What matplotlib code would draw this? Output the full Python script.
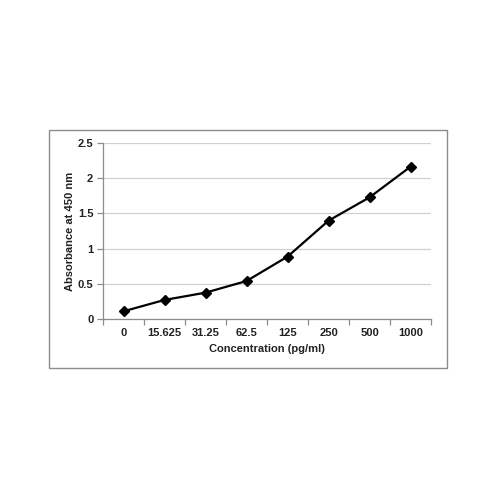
import matplotlib
matplotlib.use("Agg")
import matplotlib.pyplot as plt
from matplotlib.patches import Rectangle

categories = ["0", "15.625", "31.25", "62.5", "125", "250", "500", "1000"]
absorbance = [0.113, 0.274, 0.377, 0.542, 0.887, 1.396, 1.726, 2.160]
yticks = [0, 0.5, 1, 1.5, 2, 2.5]
ytick_labels = ["0", "0.5", "1", "1.5", "2", "2.5"]

plt.rcParams['font.family'] = ['Liberation Sans', 'DejaVu Sans']

W, H = 500, 500
fig = plt.figure(figsize=(5, 5), dpi=100)

# outer chart border
fig.patches.append(Rectangle((49 / W, 1 - 368 / H), (447 - 49) / W, (368 - 130) / H,
                             transform=fig.transFigure, fill=False,
                             edgecolor="#8c8c8c", linewidth=1.0))

left, right, top, bottom = 103, 431, 142.7, 319.3
ax = fig.add_axes([left / W, 1 - bottom / H, (right - left) / W, (bottom - top) / H])

x = list(range(len(categories)))
ax.plot(x, absorbance, color="black", linewidth=1.6, marker="D", markersize=5.5,
        markerfacecolor="black", markeredgecolor="black", zorder=3)

ax.set_xlim(-0.5, len(categories) - 0.5)
ax.set_ylim(0, 2.5)
ax.set_yticks(yticks)
ax.set_yticklabels(ytick_labels)
ax.set_xticks(x)
ax.set_xticklabels(categories)
ax.set_xticks([i - 0.5 for i in range(len(categories) + 1)], minor=True)

ax.yaxis.grid(True, color="#d0d0d0", linewidth=0.9)
ax.set_axisbelow(True)
for s in ["top", "right"]:
    ax.spines[s].set_visible(False)
for s in ["left", "bottom"]:
    ax.spines[s].set_color("#8c8c8c")
    ax.spines[s].set_linewidth(0.9)

fs = 8
ax.tick_params(axis="x", which="major", length=0, pad=6)
ax.tick_params(axis="x", which="minor", length=4, color="#8c8c8c", width=0.9)
ax.tick_params(axis="y", which="major", length=4, color="#8c8c8c", width=0.9, pad=3)
for lab in ax.get_xticklabels() + ax.get_yticklabels():
    lab.set_fontsize(fs)
    lab.set_fontweight("bold")
    lab.set_color("#222222")

ax.set_xlabel("Concentration (pg/ml)", fontsize=fs, fontweight="bold", color="#222222", labelpad=4.5)
ax.set_ylabel("Absorbance at 450 nm", fontsize=fs, fontweight="bold", color="#222222", labelpad=2)

fig.savefig("out.png", dpi=100)
